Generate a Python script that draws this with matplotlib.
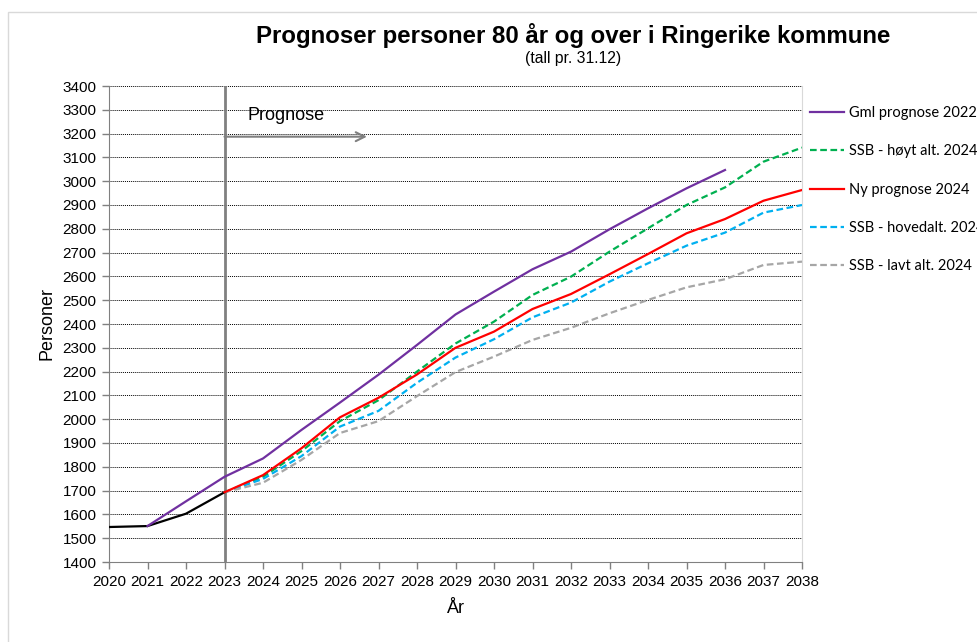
import numpy as np
import matplotlib
matplotlib.use("Agg")
import matplotlib.pyplot as plt
from matplotlib.patches import Rectangle

plt.rcParams['font.family'] = ['Liberation Sans', 'DejaVu Sans']

# data
years_hist = [2020, 2021, 2022, 2023]
hist = [1547, 1551, 1603, 1693]

years_old = list(range(2021, 2037))
gml_2022 = [1551, 1655, 1758, 1835, 1955, 2070, 2187, 2312, 2440, 2536,
            2630, 2704, 2798, 2886, 2970, 3047]

years_new = list(range(2023, 2039))
ny_2024 = [1693, 1765, 1878, 2008, 2090, 2188, 2300, 2368, 2463, 2526,
           2609, 2694, 2781, 2841, 2918, 2963]
ssb_hoy = [1693, 1758, 1866, 1992, 2080, 2200, 2318, 2410, 2522, 2599,
           2704, 2802, 2900, 2974, 3082, 3141]
ssb_hoved = [1693, 1749, 1845, 1969, 2035, 2153, 2259, 2336, 2428, 2490,
             2578, 2655, 2729, 2784, 2868, 2900]
ssb_lav = [1693, 1733, 1829, 1942, 1992, 2097, 2198, 2263, 2333, 2384,
           2445, 2501, 2554, 2588, 2648, 2662]

x_ticks = list(range(2020, 2039))
y_ticks = list(range(1400, 3401, 100))

fig = plt.figure(figsize=(9.77, 6.42), dpi=100)
ax = fig.add_axes([109/977, 1-562/642, (802-109)/977, (562-86)/642])

# outer chart frame
fig.add_artist(Rectangle((8/977, -0.1), 1.2, 1-12/642+0.1, transform=fig.transFigure,
                         fill=False, edgecolor='#d9d9d9', lw=1))

dash = (0, (3, 1.6))
ax.plot(years_hist, hist, color='black', lw=1.6, zorder=5)
l1, = ax.plot(years_old, gml_2022, color='#7030A0', lw=1.6, zorder=5)
l2, = ax.plot(years_new, ssb_hoy, color='#00B050', lw=1.6, ls=dash, zorder=4)
l3, = ax.plot(years_new, ny_2024, color='#FF0000', lw=1.6, zorder=5)
l4, = ax.plot(years_new, ssb_hoved, color='#00B0F0', lw=1.6, ls=dash, zorder=4)
l5, = ax.plot(years_new, ssb_lav, color='#A6A6A6', lw=1.6, ls=dash, zorder=4)

ax.axvline(2023, color='#808080', lw=2, zorder=3)
ax.annotate('', xy=(2026.7, 3187), xytext=(2023, 3187),
            arrowprops=dict(arrowstyle='->', color='#808080', lw=1.5,
                            mutation_scale=16, shrinkA=0, shrinkB=0))
ax.text(2023.6, 3278, 'Prognose', fontsize=13, va='center', ha='left')

ax.set_xlim(2020, 2038)
ax.set_ylim(1400, 3400)
ax.set_xticks(x_ticks)
ax.set_yticks(y_ticks)
ax.tick_params(labelsize=11, color='#808080', length=5, width=1, pad=4)
ax.yaxis.grid(True, color='black', ls=(0, (1, 1)), lw=0.7)
ax.set_axisbelow(True)
for s in ['left', 'bottom']:
    ax.spines[s].set_color('#808080')
ax.spines['top'].set_visible(False)
ax.spines['right'].set_color('#d9d9d9')

ax.set_ylabel('Personer', fontsize=13, labelpad=5)
ax.set_xlabel('År', fontsize=13, labelpad=8)

fig.text(573/977, 1-36/642, 'Prognoser personer 80 år og over i Ringerike kommune',
         fontsize=17.3, fontweight='bold', ha='center', va='center')
fig.text(573/977, 1-59/642, '(tall pr. 31.12)', fontsize=11.3, ha='center', va='center')

leg = ax.legend([l1, l2, l3, l4, l5],
                ['Gml prognose 2022', 'SSB - høyt alt. 2024', 'Ny prognose 2024',
                 'SSB - hovedalt. 2024', 'SSB - lavt alt. 2024'],
                loc='upper left', bbox_to_anchor=(810/977, 1-106/642),
                bbox_transform=fig.transFigure, frameon=False,
                prop={'family': ['Lato', 'DejaVu Sans'], 'size': 10.5},
                handlelength=2.3, handletextpad=0.35, labelspacing=1.67,
                borderaxespad=0, borderpad=0)

fig.savefig('out.png', dpi=100)
